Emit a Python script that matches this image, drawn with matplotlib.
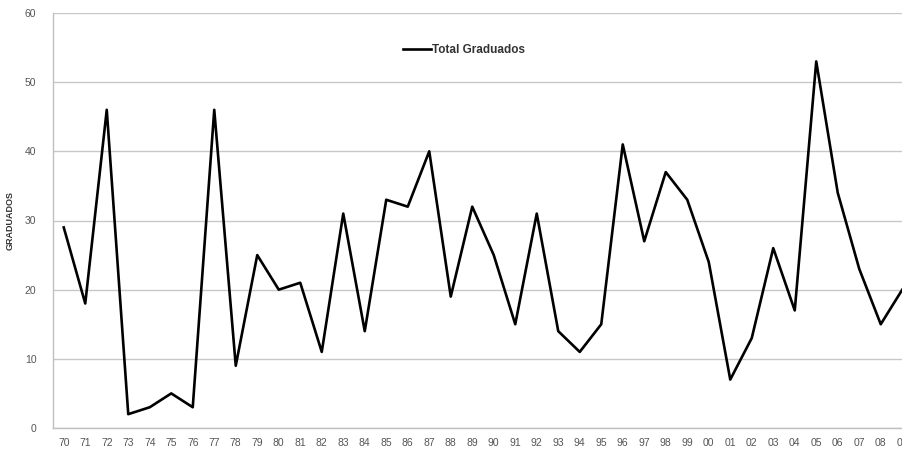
import matplotlib
matplotlib.use('Agg')
import matplotlib.pyplot as plt

years = ['70', '71', '72', '73', '74', '75', '76', '77', '78', '79',
         '80', '81', '82', '83', '84', '85', '86', '87', '88', '89',
         '90', '91', '92', '93', '94', '95', '96', '97', '98', '99',
         '00', '01', '02', '03', '04', '05', '06', '07', '08', '09']
graduados = [29, 18, 46, 2, 3, 5, 3, 46, 9, 25,
             20, 21, 11, 31, 14, 33, 32, 40, 19, 32,
             25, 15, 31, 14, 11, 15, 41, 27, 37, 33,
             24, 7, 13, 26, 17, 53, 34, 23, 15, 20]

plt.rcParams['font.family'] = ['Liberation Sans', 'DejaVu Sans']

fig = plt.figure(figsize=(9.02, 4.51), dpi=100)
# plot area runs a little past the right edge, as in the original
ax = fig.add_axes([53 / 902, 1 - 428 / 451, (913 - 53) / 902, (428 - 13) / 451])

x = list(range(len(years)))
ax.plot(x, graduados, color='black', linewidth=1.9, label='Total Graduados')

ax.set_xlim(-0.5, len(years) - 0.5)
ax.set_ylim(0, 60)
ax.set_yticks(range(0, 61, 10))
ax.set_xticks(x)
ax.set_xticklabels(years)
ax.grid(axis='y', color='#c8c8c8', linewidth=1.0)
ax.set_axisbelow(True)

for s in ['top', 'right']:
    ax.spines[s].set_visible(False)
for s in ['left', 'bottom']:
    ax.spines[s].set_color('#c0c0c0')
    ax.spines[s].set_linewidth(1.0)

ax.tick_params(axis='both', length=0, labelsize=7.5, labelcolor='#555555')
ax.tick_params(axis='y', pad=12)
ax.tick_params(axis='x', pad=7)

ax.set_ylabel('GRADUADOS', fontsize=6.5, fontweight='bold', color='#333333')
ax.yaxis.set_label_coords(-0.045, 0.5)

leg = ax.legend(loc='upper center', bbox_to_anchor=(0.478, 0.95), frameon=False,
                fontsize=8.5, handlelength=2.3, handletextpad=0.1)
for t in leg.get_texts():
    t.set_fontweight('bold')
    t.set_color('#333333')

fig.savefig('out.png', dpi=100)
